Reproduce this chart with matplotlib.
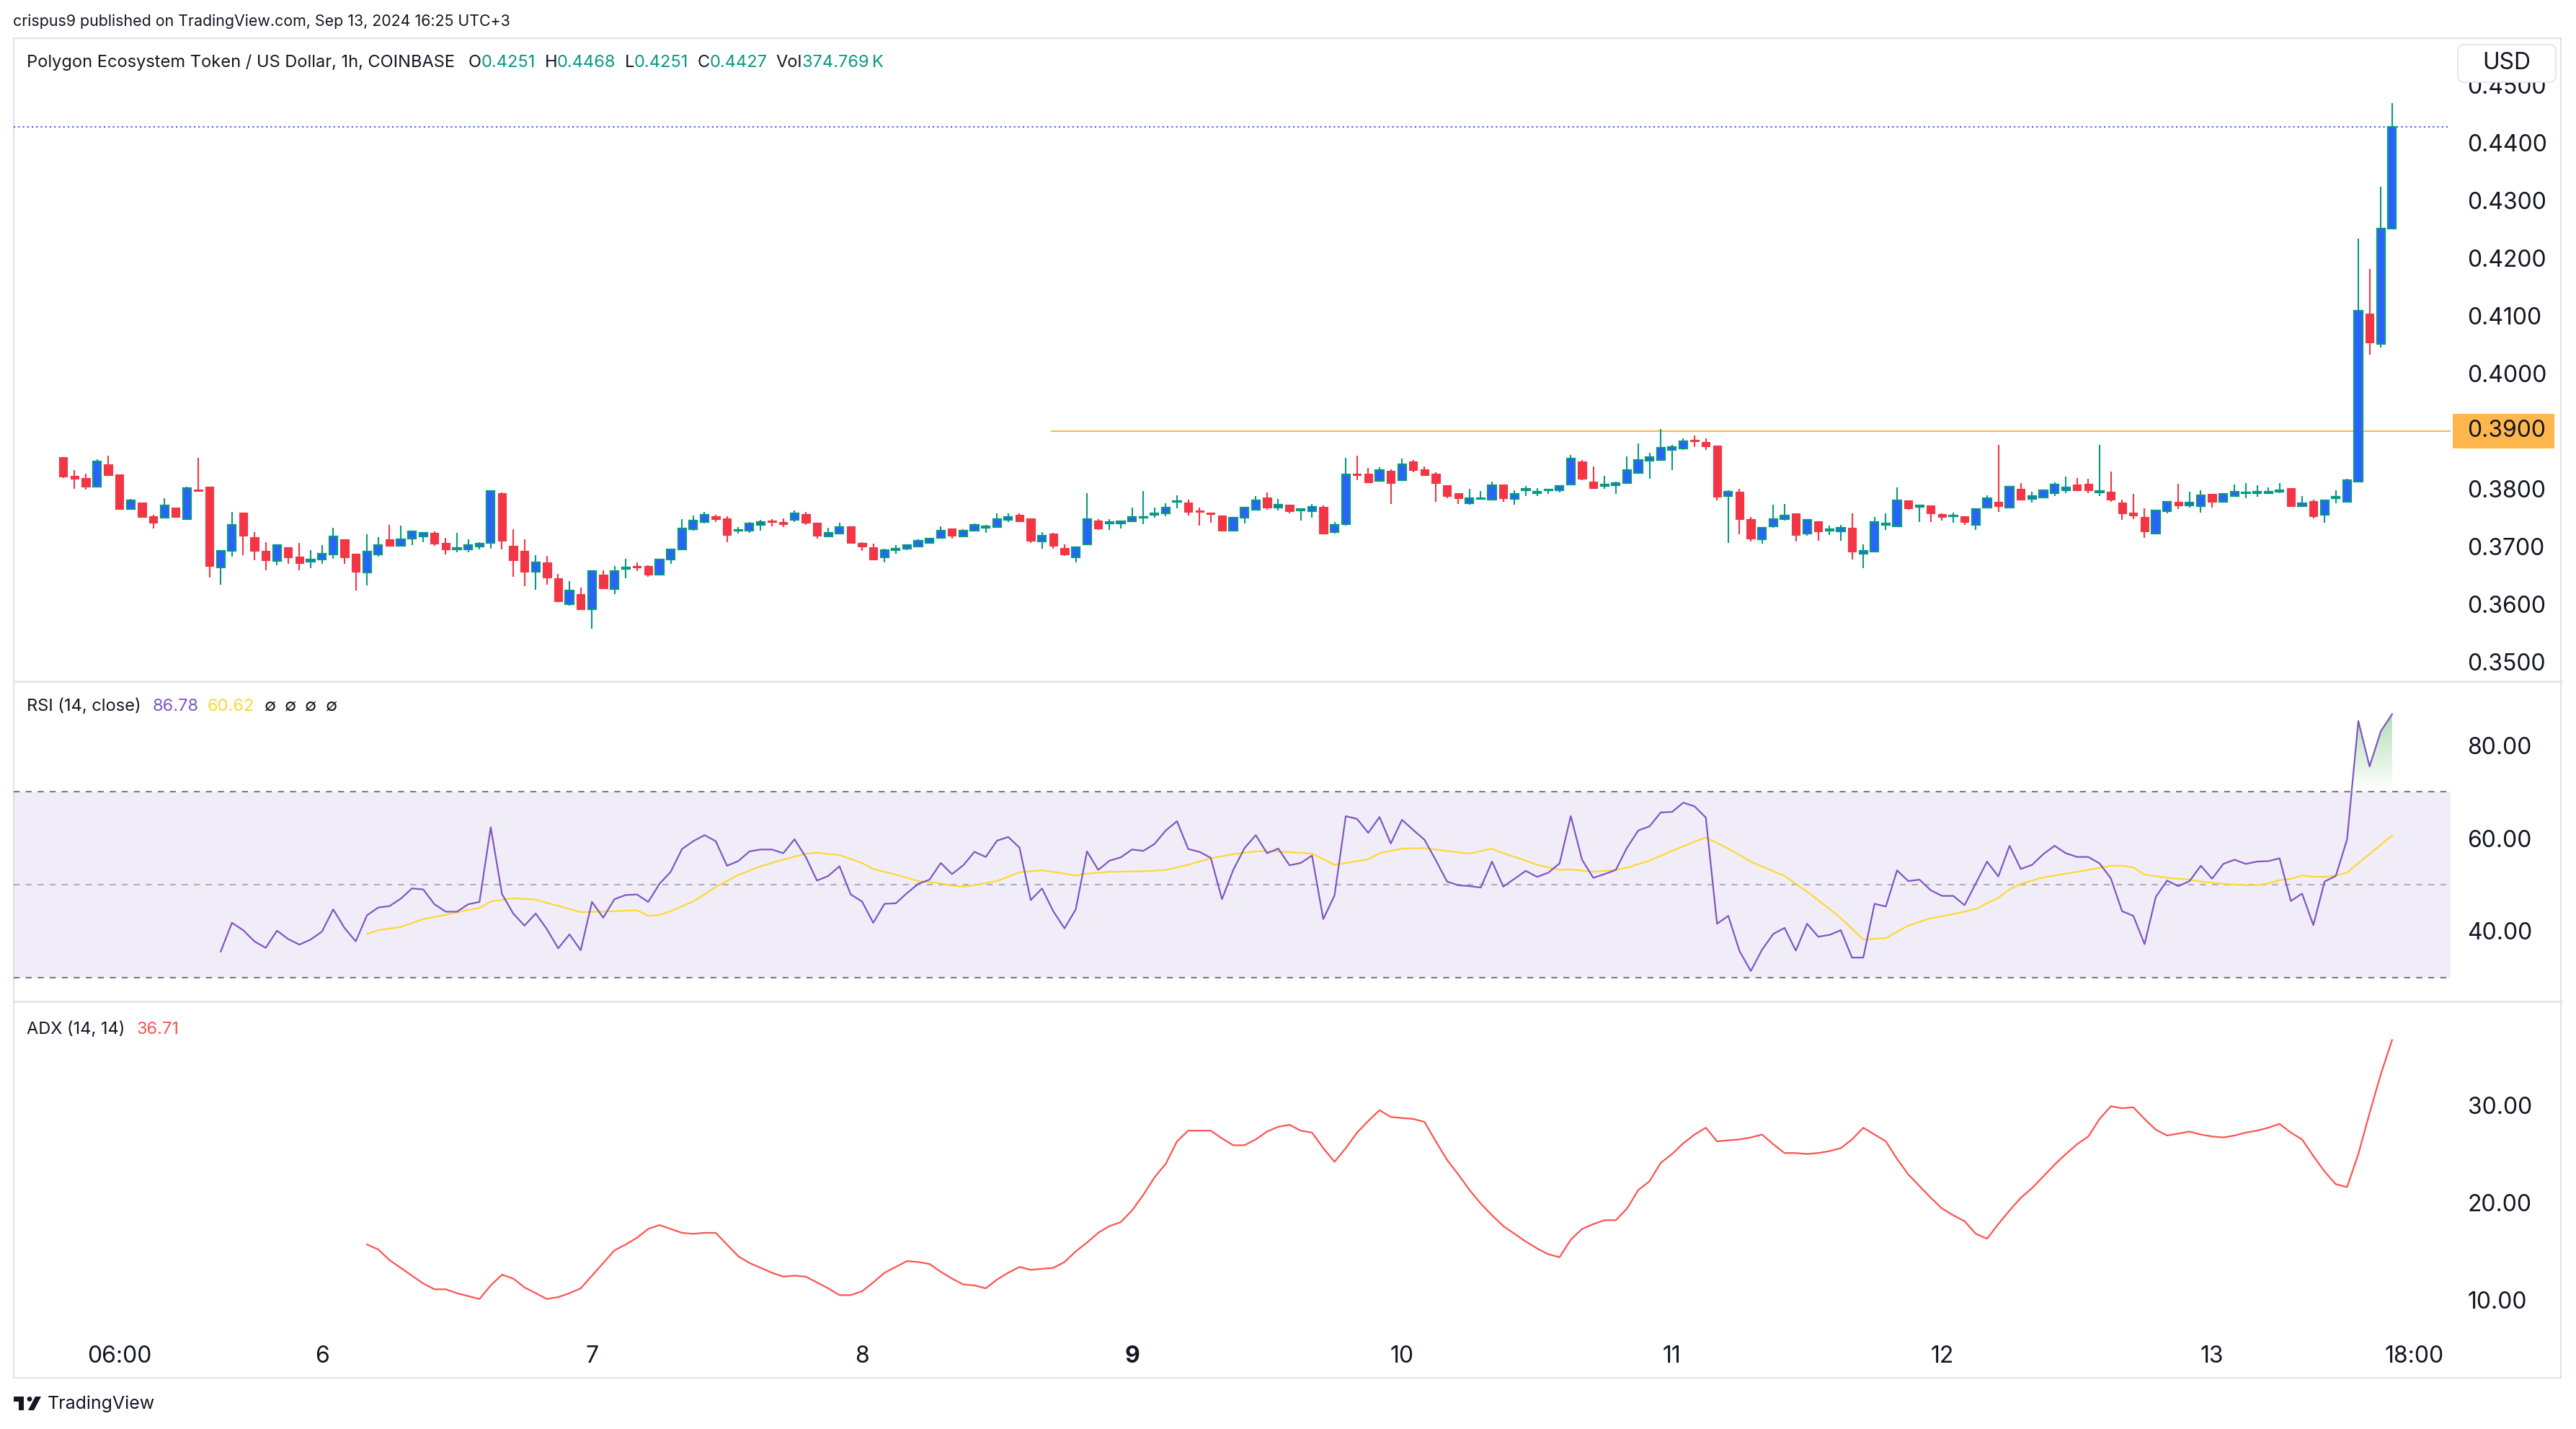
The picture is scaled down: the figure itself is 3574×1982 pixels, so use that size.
import numpy as np
import matplotlib
matplotlib.use("Agg")
import matplotlib.pyplot as plt
from matplotlib.colors import LinearSegmentedColormap
from matplotlib.patches import Rectangle, FancyBboxPatch, Polygon, Circle
from matplotlib.lines import Line2D
from matplotlib.transforms import IdentityTransform

# POL/USD 1h candles, Sep 5 01:00 .. Sep 13 16:00 (hour 1 = Sep 5 01:00)
opens = [
    .3855, .3823, .3819, .3804, .3843, .3825, .3765, .3776, .3753, .3750,
    .3768, .3748, .3799, .3804, .3664, .3692, .3759, .3716, .3693, .3675,
    .3699, .3683, .3674, .3677, .3686, .3713, .3688, .3655, .3686, .3713,
    .3701, .3714, .3718, .3724, .3706, .3695, .3695, .3700, .3706, .3793,
    .3701, .3693, .3656, .3673, .3645, .3600, .3618, .3591, .3651, .3626,
    .3661, .3666, .3666, .3651, .3677, .3695, .3730, .3742, .3753, .3749,
    .3727, .3728, .3738, .3745, .3743, .3746, .3756, .3741, .3717, .3723,
    .3735, .3706, .3699, .3681, .3694, .3696, .3700, .3706, .3715, .3731,
    .3718, .3727, .3732, .3734, .3746, .3755, .3749, .3709, .3723, .3698,
    .3681, .3704, .3745, .3740, .3740, .3744, .3750, .3755, .3758, .3777,
    .3776, .3762, .3759, .3754, .3728, .3750, .3764, .3785, .3767, .3772,
    .3763, .3761, .3769, .3725, .3739, .3826, .3826, .3814, .3831, .3815,
    .3847, .3834, .3826, .3806, .3792, .3775, .3782, .3781, .3808, .3782,
    .3798, .3793, .3797, .3798, .3808, .3847, .3813, .3805, .3806, .3810,
    .3827, .3849, .3850, .3868, .3870, .3885, .3881, .3875, .3788, .3795,
    .3748, .3713, .3735, .3747, .3758, .3722, .3744, .3728, .3726, .3732,
    .3688, .3691, .3738, .3735, .3780, .3769, .3771, .3756, .3752, .3753,
    .3737, .3767, .3778, .3768, .3800, .3782, .3785, .3793, .3797, .3807,
    .3809, .3794, .3795, .3776, .3759, .3751, .3722, .3761, .3778, .3771,
    .3770, .3791, .3777, .3787, .3792, .3793, .3793, .3795, .3801, .3770,
    .3779, .3755, .3784, .3777, .3813, .4103, .4051, .4251,
]
highs = [
    .3855, .3833, .3826, .3851, .3858, .3825, .3783, .3776, .3755, .3784,
    .3768, .3804, .3854, .3804, .3693, .3760, .3759, .3725, .3708, .3702,
    .3699, .3706, .3694, .3703, .3733, .3713, .3688, .3721, .3716, .3738,
    .3736, .3726, .3724, .3726, .3715, .3724, .3713, .3708, .3796, .3794,
    .3730, .3713, .3685, .3684, .3653, .3640, .3629, .3658, .3659, .3666,
    .3679, .3673, .3668, .3677, .3695, .3748, .3754, .3760, .3755, .3753,
    .3734, .3743, .3746, .3748, .3749, .3762, .3760, .3741, .3733, .3741,
    .3735, .3708, .3705, .3696, .3703, .3703, .3713, .3715, .3735, .3731,
    .3730, .3740, .3738, .3758, .3758, .3758, .3749, .3725, .3724, .3704,
    .3699, .3793, .3748, .3748, .3745, .3768, .3796, .3768, .3775, .3789,
    .3781, .3768, .3759, .3754, .3750, .3767, .3788, .3794, .3782, .3772,
    .3765, .3774, .3771, .3742, .3854, .3858, .3836, .3837, .3834, .3852,
    .3850, .3839, .3829, .3806, .3792, .3800, .3796, .3813, .3808, .3797,
    .3805, .3801, .3800, .3805, .3859, .3850, .3839, .3823, .3813, .3856,
    .3879, .3862, .3904, .3876, .3888, .3892, .3888, .3875, .3797, .3800,
    .3751, .3733, .3772, .3774, .3758, .3746, .3744, .3736, .3737, .3758,
    .3704, .3751, .3758, .3803, .3780, .3772, .3771, .3758, .3759, .3753,
    .3765, .3789, .3876, .3805, .3810, .3795, .3797, .3811, .3821, .3819,
    .3818, .3876, .3830, .3781, .3791, .3766, .3762, .3778, .3809, .3795,
    .3797, .3791, .3792, .3808, .3810, .3806, .3803, .3810, .3801, .3788,
    .3781, .3780, .3797, .3817, .4233, .4181, .4324, .4468,
]
lows = [
    .3819, .3800, .3799, .3804, .3824, .3765, .3765, .3751, .3731, .3750,
    .3750, .3746, .3795, .3646, .3634, .3683, .3685, .3676, .3659, .3668,
    .3670, .3659, .3663, .3670, .3679, .3670, .3624, .3633, .3683, .3701,
    .3701, .3703, .3708, .3701, .3686, .3690, .3690, .3695, .3696, .3695,
    .3648, .3631, .3625, .3634, .3605, .3598, .3591, .3558, .3628, .3618,
    .3645, .3658, .3648, .3650, .3670, .3695, .3728, .3740, .3743, .3708,
    .3723, .3724, .3728, .3735, .3734, .3743, .3738, .3714, .3717, .3723,
    .3706, .3693, .3677, .3673, .3688, .3694, .3700, .3706, .3715, .3714,
    .3718, .3727, .3724, .3734, .3743, .3743, .3706, .3696, .3696, .3684,
    .3673, .3704, .3729, .3729, .3731, .3744, .3739, .3750, .3753, .3766,
    .3754, .3736, .3741, .3726, .3728, .3740, .3764, .3764, .3762, .3757,
    .3745, .3750, .3722, .3722, .3736, .3815, .3811, .3812, .3774, .3814,
    .3829, .3823, .3777, .3784, .3774, .3772, .3782, .3781, .3777, .3772,
    .3788, .3788, .3791, .3794, .3808, .3815, .3800, .3800, .3791, .3810,
    .3827, .3817, .3850, .3832, .3867, .3872, .3867, .3780, .3706, .3721,
    .3709, .3705, .3733, .3745, .3709, .3719, .3710, .3720, .3710, .3678,
    .3662, .3691, .3729, .3735, .3764, .3742, .3742, .3745, .3741, .3738,
    .3729, .3767, .3760, .3768, .3781, .3776, .3784, .3788, .3793, .3797,
    .3793, .3788, .3777, .3746, .3747, .3715, .3722, .3757, .3765, .3768,
    .3759, .3767, .3776, .3787, .3784, .3786, .3791, .3793, .3770, .3770,
    .3749, .3741, .3775, .3777, .3813, .4032, .4045, .4251,
]
closes = [
    .3821, .3817, .3804, .3847, .3824, .3765, .3780, .3751, .3741, .3771,
    .3751, .3801, .3796, .3666, .3693, .3738, .3719, .3693, .3676, .3702,
    .3681, .3671, .3678, .3688, .3718, .3681, .3656, .3691, .3703, .3701,
    .3713, .3726, .3724, .3705, .3695, .3698, .3703, .3705, .3796, .3710,
    .3676, .3656, .3673, .3646, .3605, .3624, .3591, .3658, .3628, .3658,
    .3664, .3664, .3651, .3677, .3695, .3731, .3745, .3755, .3748, .3720,
    .3729, .3740, .3743, .3743, .3739, .3757, .3741, .3719, .3724, .3734,
    .3706, .3700, .3677, .3694, .3696, .3703, .3710, .3714, .3728, .3719,
    .3728, .3738, .3735, .3748, .3751, .3744, .3710, .3719, .3701, .3686,
    .3699, .3748, .3731, .3743, .3744, .3751, .3751, .3758, .3768, .3779,
    .3760, .3760, .3756, .3728, .3750, .3767, .3780, .3767, .3772, .3761,
    .3765, .3769, .3722, .3738, .3825, .3824, .3811, .3832, .3810, .3843,
    .3832, .3824, .3810, .3788, .3784, .3784, .3784, .3806, .3784, .3791,
    .3800, .3795, .3799, .3805, .3852, .3817, .3801, .3808, .3810, .3832,
    .3850, .3855, .3871, .3872, .3883, .3883, .3874, .3786, .3795, .3748,
    .3714, .3733, .3747, .3754, .3720, .3746, .3726, .3730, .3732, .3691,
    .3693, .3742, .3740, .3780, .3766, .3771, .3758, .3751, .3754, .3742,
    .3765, .3784, .3770, .3804, .3781, .3788, .3797, .3807, .3802, .3797,
    .3797, .3796, .3781, .3758, .3754, .3726, .3762, .3778, .3771, .3776,
    .3789, .3777, .3791, .3795, .3794, .3795, .3795, .3797, .3770, .3775,
    .3752, .3780, .3786, .3815, .4108, .4053, .4251, .4427,
]

# RSI(14) from hour 15 on
rsi_start = 15
rsi_values = [
    35.6, 41.8, 40.2, 37.8, 36.4, 40.1, 38.3, 37.1, 38.2, 39.9,
    44.7, 40.7, 37.8, 43.4, 45.1, 45.4, 47.0, 49.2, 49.0, 45.8,
    44.2, 44.2, 45.8, 46.3, 62.4, 48.0, 43.8, 41.2, 43.8, 40.4,
    36.3, 39.3, 35.9, 46.3, 42.9, 46.9, 47.8, 47.9, 46.3, 50.2,
    52.8, 57.7, 59.4, 60.7, 59.4, 54.1, 55.1, 57.2, 57.6, 57.6,
    56.8, 59.8, 56.0, 50.9, 51.9, 54.0, 47.9, 46.4, 41.8, 45.9,
    46.0, 48.2, 50.2, 51.1, 54.7, 52.3, 54.2, 57.1, 56.0, 59.5,
    60.3, 58.0, 46.7, 49.2, 44.3, 40.6, 44.7, 57.2, 53.2, 55.2,
    55.9, 57.6, 57.3, 58.8, 61.7, 63.7, 57.7, 57.1, 55.8, 46.9,
    53.2, 57.9, 60.7, 56.8, 57.8, 54.2, 54.7, 56.3, 42.6, 47.7,
    64.8, 64.2, 61.2, 64.6, 58.9, 64.0, 61.8, 59.7, 55.3, 50.7,
    49.9, 49.7, 49.4, 55.0, 49.6, 51.3, 53.0, 51.7, 52.6, 54.6,
    64.8, 55.4, 51.5, 52.3, 53.2, 58.0, 61.7, 62.6, 65.6, 65.7,
    67.7, 66.9, 64.5, 41.6, 43.3, 35.7, 31.4, 36.0, 39.4, 40.7,
    35.8, 41.6, 38.8, 39.2, 40.2, 34.3, 34.3, 45.9, 45.3, 53.1,
    50.8, 51.1, 48.8, 47.6, 47.6, 45.6, 50.3, 55.0, 51.8, 58.4,
    53.4, 54.3, 56.6, 58.4, 56.8, 56.0, 56.0, 54.6, 51.4, 44.3,
    43.3, 37.2, 47.4, 50.9, 49.7, 50.8, 54.1, 51.3, 54.5, 55.4,
    54.5, 55.0, 55.1, 55.7, 46.5, 48.1, 41.3, 50.7, 51.9, 59.8,
    85.3, 75.5, 83.1, 86.78,
]

# RSI moving average (read at these hours)
rsi_ma_hours = [
    28, 29, 31, 33, 35, 37, 38, 39, 41, 43, 44, 46, 47, 50, 52, 53, 54, 55,
    57, 59, 60, 61, 63, 65, 67, 68, 70, 72, 73, 75, 77, 79, 80, 81, 82, 84,
    86, 88, 89, 91, 92, 94, 97, 99, 101, 103, 105, 107, 109, 112,
    114, 115, 117, 118, 120, 122, 124, 126, 128, 129, 131, 132, 134, 135,
    137, 139, 140, 142, 144, 146, 147, 149, 151, 153, 154, 156, 158, 159,
    161, 163, 165, 167, 168, 170, 171, 173, 174, 175, 177, 179, 181, 183,
    184, 185, 186, 188, 190, 191, 193, 195, 196, 197, 198, 199, 200, 201,
    202, 203, 204, 205, 206, 208,
]
rsi_ma_values = [
    39.4, 40.2, 40.9, 42.6, 43.5, 44.6, 45.0, 46.4, 47.1, 46.8, 46.1, 44.8,
    44.1, 44.3, 44.5, 43.3, 43.5, 44.3, 46.4, 49.5, 50.8, 52.1, 54.0, 55.4,
    56.7, 56.9, 56.4, 54.7, 53.4, 52.2, 50.8, 50.3, 49.8, 49.6, 49.9, 50.8,
    52.7, 53.1, 52.8, 52.0, 52.4, 52.8, 52.9, 53.2, 54.3, 55.7, 56.6, 57.2,
    57.2, 56.7,
    54.3, 54.7, 55.5, 56.8, 57.8, 57.9, 57.3, 56.7, 57.8, 56.8, 55.2, 54.3,
    53.2, 53.3, 52.8, 53.2, 53.7, 55.2, 57.3, 59.3, 60.2, 57.8, 55.0, 52.9,
    51.9, 48.5, 44.8, 42.8, 38.2, 38.5, 41.2, 42.8, 43.2, 44.2, 44.8, 47.2,
    49.0, 50.2, 51.6, 52.4, 53.2, 54.1, 54.1, 53.7, 52.2, 51.5, 51.1, 50.7,
    50.2, 49.9, 49.9, 50.3, 51.0, 51.3, 52.0, 51.7, 51.7, 52.0, 52.6, 54.7,
    56.6, 60.62,
]

# ADX(14, 14) from hour 28 on
adx_start = 28
adx_values = [
    15.7, 15.2, 14.1, 13.3, 12.5, 11.7, 11.1, 11.1, 10.7, 10.4,
    10.1, 11.5, 12.6, 12.2, 11.3, 10.7, 10.1, 10.3, 10.7, 11.2,
    12.5, 13.8, 15.1, 15.7, 16.4, 17.3, 17.7, 17.3, 16.9, 16.8,
    16.9, 16.9, 15.7, 14.5, 13.8, 13.3, 12.8, 12.4, 12.5, 12.4,
    11.8, 11.2, 10.5, 10.5, 10.9, 11.8, 12.8, 13.4, 14.0, 13.9,
    13.7, 12.9, 12.2, 11.6, 11.5, 11.2, 12.1, 12.8, 13.4, 13.1,
    13.2, 13.3, 13.9, 15.0, 15.9, 16.9, 17.6, 18.0, 19.2, 20.8,
    22.6, 24.0, 26.3, 27.4, 27.4, 27.4, 26.6, 25.9, 25.9, 26.5,
    27.3, 27.8, 28.0, 27.4, 27.2, 25.6, 24.2, 25.6, 27.2, 28.4,
    29.5, 28.8, 28.7, 28.6, 28.3, 26.3,
    24.4, 22.9, 21.3, 19.9, 18.7, 17.6, 16.8, 16.0, 15.3, 14.7,
    14.4, 16.2, 17.3, 17.8, 18.2, 18.2, 19.4, 21.3, 22.2, 24.1,
    25.0, 26.1, 27.0, 27.7, 26.3, 26.4, 26.5, 26.7, 27.0, 26.0,
    25.1, 25.1, 25.0, 25.1, 25.3, 25.6, 26.5, 27.7, 27.0, 26.3,
    24.5, 22.9, 21.7, 20.5, 19.4, 18.7, 18.1, 16.8, 16.3, 17.8,
    19.2, 20.5, 21.5, 22.7, 23.9, 25.0, 26.0, 26.8, 28.6, 29.9,
    29.7, 29.8, 28.6, 27.5, 26.9, 27.1, 27.3, 27.0, 26.8, 26.7,
    26.9, 27.2, 27.4, 27.7, 28.1, 27.2, 26.5, 24.8, 23.2, 21.9,
    21.6, 25.0, 29.2, 33.2, 36.71,
]

level_price = 0.39
level_from_hour = 88.8
price_ticks = [0.35, 0.36, 0.37, 0.38, 0.40, 0.41, 0.42, 0.43, 0.44, 0.45]
rsi_ticks = [40, 60, 80]
adx_ticks = [10, 20, 30]
time_tick_hours = [6, 24, 48, 72, 96, 120, 144, 168, 192, 210]
time_tick_labels = ['06:00', '6', '7', '8', '9', '10', '11', '12', '13', '18:00']

# colours
DARK = '#131722'
UP_EDGE = '#089981'
UP_BODY = '#2962FF'
DOWN = '#F23645'
RSI_COLOR = '#7E57C2'
MA_COLOR = '#FDD835'
ADX_COLOR = '#FF5252'
LEVEL_COLOR = '#FFB74D'
BORDER = '#E0E3EB'

plt.rcParams['font.family'] = ['Inter', 'DejaVu Sans']

W, H, DPI = 3574, 1982, 100
PX = IdentityTransform()

fig = plt.figure(figsize=(W / DPI, H / DPI), dpi=DPI, facecolor='white')


def add_pane(top, bottom, sharex=None):
    left, right = 19, 3400
    a = fig.add_axes([left / W, 1 - bottom / H, (right - left) / W, (bottom - top) / H],
                     sharex=sharex)
    for s in a.spines.values():
        s.set_visible(False)
    a.set_facecolor('none')
    a.yaxis.tick_right()
    a.tick_params(axis='y', length=0, pad=17, labelsize=23, labelcolor=DARK)
    a.tick_params(axis='x', length=0, labelbottom=False)
    return a


ax = add_pane(53, 944)
ax_rsi = add_pane(946, 1388, ax)
ax_adx = add_pane(1390, 1851, ax)

# ---- candles ----
o = np.array(opens)
hi = np.array(highs)
lo = np.array(lows)
c = np.array(closes)
hours = np.arange(1, len(c) + 1)
up = c >= o
body_low = np.minimum(o, c)
body_h = np.maximum(np.abs(c - o), 0.00018)

ax.vlines(hours[up], lo[up], hi[up], color=UP_EDGE, lw=1.5, zorder=2)
ax.vlines(hours[~up], lo[~up], hi[~up], color=DOWN, lw=1.5, zorder=2)
ax.bar(hours[up], body_h[up], 0.72, bottom=body_low[up], color=UP_BODY,
       edgecolor=UP_EDGE, linewidth=1.6, zorder=3)
ax.bar(hours[~up], body_h[~up], 0.72, bottom=body_low[~up], color=DOWN,
       edgecolor=DOWN, linewidth=0.8, zorder=3)

ax.hlines(level_price, level_from_hour, 214, color=LEVEL_COLOR, lw=1.6, zorder=1)
ax.axhline(c[-1], color=UP_BODY, lw=1.5, linestyle=(0, (1, 2)), zorder=1)

ax.set_ylim(0.34675, 0.4581)
ax.set_yticks(price_ticks)
ax.set_yticklabels([f'{v:.4f}' for v in price_ticks])

# ---- RSI ----
rsi = np.array(rsi_values)
rsi_hours = np.arange(rsi_start, rsi_start + len(rsi))
ax_rsi.axhspan(30, 70, color=RSI_COLOR, alpha=0.1, lw=0, zorder=0)
ax_rsi.axhline(70, color='#787B86', lw=1.5, linestyle=(0, (4, 4)), zorder=1)
ax_rsi.axhline(30, color='#787B86', lw=1.5, linestyle=(0, (4, 4)), zorder=1)
ax_rsi.axhline(50, color='#787B86', alpha=0.55, lw=1.5, linestyle=(0, (4, 4)), zorder=1)

fill = ax_rsi.fill_between(rsi_hours, 70, rsi, where=rsi > 70, interpolate=True,
                           facecolor='none', edgecolor='none')
green_fade = LinearSegmentedColormap.from_list(
    'fade', [(0.30, 0.69, 0.31, 0.0), (0.30, 0.69, 0.31, 0.5)])
grad = np.linspace(0, 1, 200).reshape(-1, 1)
im = ax_rsi.imshow(grad, extent=[195, 212, 70, 90], origin='lower', aspect='auto',
                   cmap=green_fade, zorder=1.5)
paths = fill.get_paths()
if paths:
    im.set_clip_path(paths[0], transform=ax_rsi.transData)

ax_rsi.plot(rsi_hours, rsi, color=RSI_COLOR, lw=1.6, zorder=3)
ax_rsi.plot(rsi_ma_hours, rsi_ma_values, color=MA_COLOR, lw=1.6, zorder=2)
ax_rsi.set_ylim(25.0, 93.7)
ax_rsi.set_yticks(rsi_ticks)
ax_rsi.set_yticklabels([f'{v:.2f}' for v in rsi_ticks])

# ---- ADX ----
adx = np.array(adx_values)
adx_hours = np.arange(adx_start, adx_start + len(adx))
ax_adx.plot(adx_hours, adx, color=ADX_COLOR, lw=1.6)
ax_adx.set_ylim(6.45, 40.6)
ax_adx.set_yticks(adx_ticks)
ax_adx.set_yticklabels([f'{v:.2f}' for v in adx_ticks])

ax_adx.set_xticks(time_tick_hours)
ax_adx.set_xticklabels(time_tick_labels)
ax_adx.tick_params(axis='x', labelbottom=True, pad=11, labelsize=23, labelcolor=DARK)
for lbl in ax_adx.get_xticklabels():
    if lbl.get_text() == '9':
        lbl.set_fontweight('bold')

ax.set_xlim(-3.4, 213.2)

# ---- frame and pane separators ----
fig.add_artist(Rectangle((19, H - 1911), 3553 - 19, 1911 - 53, transform=PX,
                         fill=False, ec=BORDER, lw=1.5, zorder=0))
for y in (945, 1389):
    fig.add_artist(Line2D([19, 3553], [H - y, H - y], transform=PX, color=BORDER, lw=2))

# ---- price axis badges ----
fig.add_artist(FancyBboxPatch((3410, H - 114), 136, 52, transform=PX,
                              boxstyle='round,pad=0,rounding_size=9',
                              fc='white', ec=BORDER, lw=1.2, zorder=5))
fig.text(3478, H - 88, 'USD', transform=PX, ha='center', va='center',
         fontsize=23, color=DARK, zorder=6)

y_level = ax.transData.transform((0, level_price))[1]
fig.add_artist(Rectangle((3403, y_level - 24), 141, 48, transform=PX,
                         fc=LEVEL_COLOR, ec='none', zorder=5))
fig.text(3423, y_level, f'{level_price:.4f}', transform=PX, ha='left', va='center',
         fontsize=23, color=DARK, zorder=6)

# ---- text rows ----
renderer = fig.canvas.get_renderer()


def text_run(x, y, pieces, size=17):
    for s, color, gap in pieces:
        t = fig.text(x, H - y, s, transform=PX, color=color, fontsize=size,
                     ha='left', va='center')
        x = t.get_window_extent(renderer).x1 + gap


fig.text(18, H - 30, 'crispus9 published on TradingView.com, Sep 13, 2024 16:25 UTC+3',
         transform=PX, fontsize=15.4, color=DARK, ha='left', va='center')

text_run(37, 87, [
    ('Polygon Ecosystem Token / US Dollar, 1h, COINBASE', DARK, 19),
    ('O', DARK, 0), (f'{opens[-1]:.4f}', UP_EDGE, 12),
    ('H', DARK, 0), (f'{highs[-1]:.4f}', UP_EDGE, 12),
    ('L', DARK, 0), (f'{lows[-1]:.4f}', UP_EDGE, 12),
    ('C', DARK, 0), (f'{closes[-1]:.4f}', UP_EDGE, 12),
    ('Vol', DARK, 0), ('374.769\u2009K', UP_EDGE, 0),
])
text_run(37, 980, [
    ('RSI (14, close)', DARK, 16),
    (f'{rsi_values[-1]:.2f}', RSI_COLOR, 12),
    (f'{rsi_ma_values[-1]:.2f}', MA_COLOR, 14),
    ('\u2205', DARK, 12), ('\u2205', DARK, 12), ('\u2205', DARK, 12), ('\u2205', DARK, 0),
])
text_run(37, 1428, [
    ('ADX (14, 14)', DARK, 16),
    (f'{adx_values[-1]:.2f}', ADX_COLOR, 0),
])

# ---- TradingView logo ----
def p(x, y):
    return (x, H - y)


fig.add_artist(Polygon([p(19, 1937), p(33, 1937), p(33, 1956), p(26, 1956), p(26, 1944),
                        p(19, 1944)], closed=True, transform=PX, fc=DARK, ec='none'))
fig.add_artist(Circle(p(41, 1940.5), 3.4, transform=PX, fc=DARK, ec='none'))
fig.add_artist(Polygon([p(49, 1937), p(57, 1937), p(47, 1956), p(39, 1956)], closed=True,
                       transform=PX, fc=DARK, ec='none'))
fig.text(66, H - 1947, 'TradingView', transform=PX, fontsize=18, color=DARK,
         ha='left', va='center')

fig.savefig('out.png', dpi=DPI, facecolor='white')
